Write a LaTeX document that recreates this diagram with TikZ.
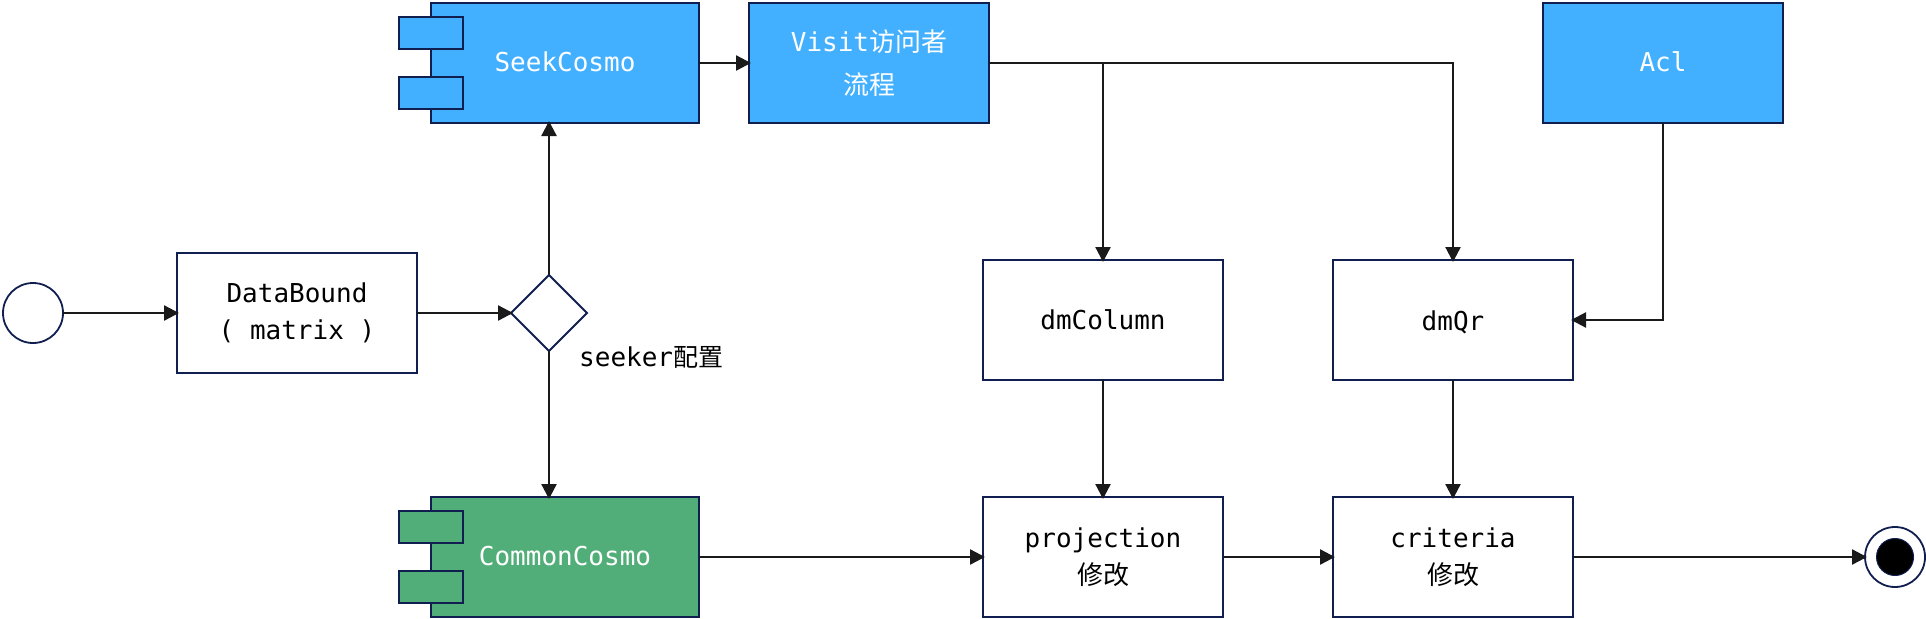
\documentclass[tikz,border=0pt]{standalone}
\usepackage{fontspec}
\setmonofont{DejaVu Sans Mono}
\newfontfamily\cjk{Noto Sans CJK SC}
\usetikzlibrary{arrows.meta,shapes.geometric,calc}
\definecolor{edgeblue}{HTML}{101F4F}
\definecolor{linedark}{HTML}{1A1A1A}
\definecolor{fillblue}{HTML}{42B0FF}
\definecolor{fillgreen}{HTML}{52AE78}
\tikzset{
  base/.style={draw=edgeblue,line width=2.4pt,outer sep=0pt,inner sep=0pt,align=center,
    font=\fontsize{26}{37}\selectfont\ttfamily},
  box/.style={base,rectangle,minimum width=240pt,minimum height=120pt,fill=white,text=black},
  bluebox/.style={box,fill=fillblue,text=white},
  comp/.style={box,minimum width=268pt,text=white},
  tab/.style={base,rectangle,minimum width=64pt,minimum height=32pt},
  ring/.style={base,circle,minimum size=60pt,fill=white,line width=1.8pt},
  conn/.style={draw=linedark,line width=2.3pt,-{Triangle[length=15pt,width=15pt]},shorten >=-2pt},
}
\begin{document}
\begin{tikzpicture}[x=1pt,y=-1pt]
\useasboundingbox (0,0) rectangle (1926,618);
\node[ring] (start) at (33,313) {};
\node[box] (data) at (297,313) {DataBound\\( matrix )};
\node[base,diamond,aspect=1,minimum size=76pt,fill=white,line width=2pt] (dec) at (549,313) {};
\node[font=\fontsize{26}{37}\selectfont\ttfamily,anchor=west,inner sep=0pt,text=black] (seeker) at (579,357) {seeker{\fontsize{25}{37}\selectfont\cjk 配置}};
\node[comp,fill=fillblue] (seek) at (565,63) {\raisebox{2pt}{SeekCosmo}};
\node[tab,fill=fillblue] (seekA) at (431,33) {};
\node[tab,fill=fillblue] (seekB) at (431,93) {};
\node[bluebox] (visit) at (869,63) {Visit{\cjk 访问者}\\[6pt]{\cjk 流程}};
\node[bluebox] (acl) at (1663,63) {\raisebox{2pt}{Acl}};
\node[box] (col) at (1103,320) {dmColumn};
\node[box] (qr) at (1453,320) {\rule{0pt}{25pt}dmQr};
\node[comp,fill=fillgreen] (common) at (565,557) {\raisebox{2pt}{CommonCosmo}};
\node[tab,fill=fillgreen] (commonA) at (431,527) {};
\node[tab,fill=fillgreen] (commonB) at (431,587) {};
\node[box] (proj) at (1103,557) {projection\\{\cjk 修改}};
\node[box] (crit) at (1453,557) {criteria\\{\cjk 修改}};
\node[ring] (finish) at (1895,557) {};
\node[draw=edgeblue,fill=black,circle,minimum size=37pt,inner sep=0pt,line width=1pt] (dot) at (finish.center) {};
\coordinate (vr) at (1103,63);
\coordinate (vq) at (1453,63);
\coordinate (ar) at (1663,320);
\draw[conn] (start.east) -- (data.west);
\draw[conn] (data.east) -- (dec.west);
\draw[conn] (dec.north) -- (dec.north |- seek.south);
\draw[conn] (dec.south) -- (dec.south |- common.north);
\draw[conn] (seek.east) -- (visit.west);
\draw[conn] (visit.east) -- (vq) -- (qr.north);
\draw[conn] (vr) -- (col.north);
\draw[conn] (acl.south) -- (ar) -- (qr.east);
\draw[conn] (col.south) -- (proj.north);
\draw[conn] (qr.south) -- (crit.north);
\draw[conn] (common.east) -- (proj.west);
\draw[conn] (proj.east) -- (crit.west);
\draw[conn] (crit.east) -- (finish.west);
\end{tikzpicture}
\end{document}
